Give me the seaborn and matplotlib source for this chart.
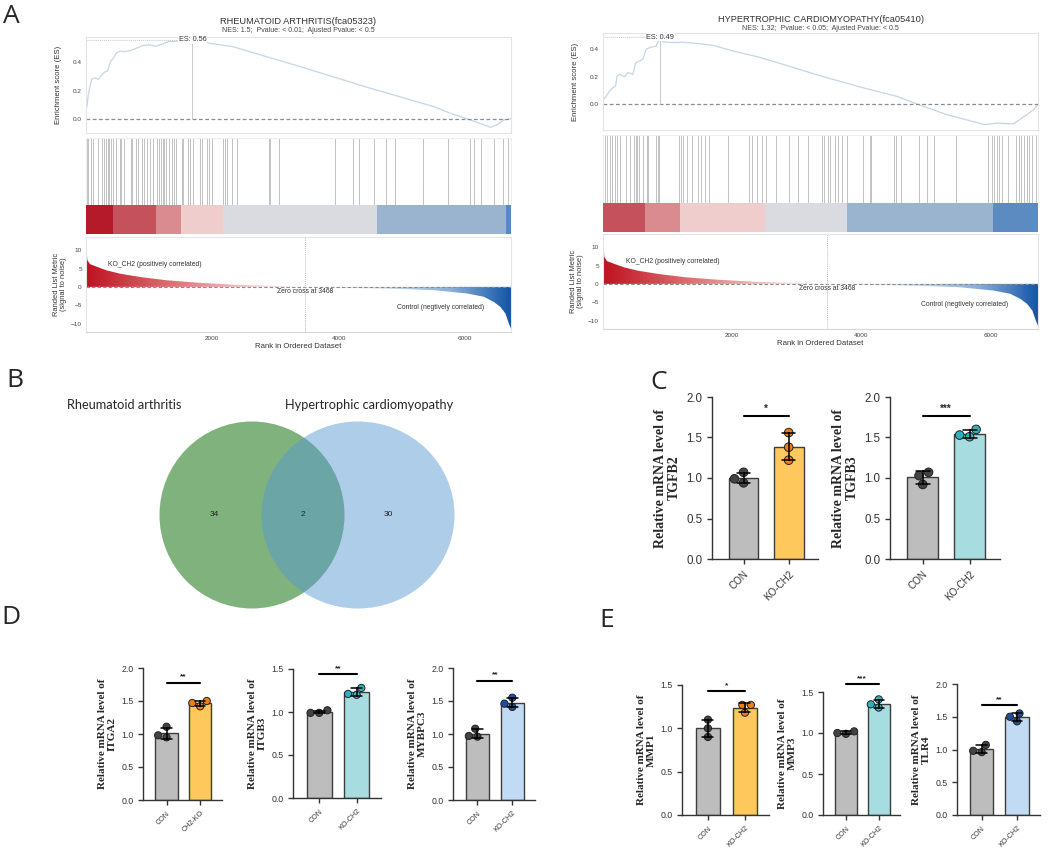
import matplotlib
matplotlib.use("Agg")
import matplotlib.pyplot as plt
import numpy as np
import pandas as pd
import seaborn as sns
from matplotlib.colors import LinearSegmentedColormap
from matplotlib.patches import Ellipse

W, H = 1059, 851

# --------------------------------------------------------------------------- #
# Panel A - GSEA
# --------------------------------------------------------------------------- #
N_GENES = 6730
ZERO_CROSS = 3468
RANK_PTS = [0, 21, 63, 169, 328, 539, 856, 1279, 1807, 2336, 2864, 3468,
            4186, 4978, 5507, 6036, 6300, 6458, 6564, 6643, 6696, 6730]
METRIC_PTS = [12.7, 7.3, 6.2, 5.5, 4.5, 3.6, 2.7, 1.8, 1.1, 0.6, 0.35, 0.0,
              -0.27, -0.55, -0.9, -1.8, -2.7, -4.1, -5.5, -7.3, -10.0, -11.4]

RA_TITLE = "RHEUMATOID ARTHRITIS(fca05323)"
RA_STATS = "NES: 1.5;  Pvalue: < 0.01;  Ajusted Pvalue: < 0.5"
RA_ES_RANK = [0, 15, 36, 87, 138, 199, 240, 291, 342, 393, 443, 484, 545, 596,
              698, 799, 901, 1003, 1105, 1207, 1308, 1512, 1685, 1807, 2336,
              3393, 4450, 5507, 5771, 6036, 6300, 6405, 6511, 6617, 6730]
RA_ES = [0.07, 0.086, 0.17, 0.28, 0.29, 0.28, 0.305, 0.33, 0.34, 0.41, 0.435,
         0.47, 0.48, 0.476, 0.483, 0.50, 0.52, 0.524, 0.514, 0.53, 0.548, 0.552,
         0.56, 0.546, 0.51, 0.37, 0.224, 0.087, 0.04, 0.0, -0.042, -0.06,
         -0.042, -0.007, 0.0]
RA_PEAK = (1685, 0.56)
RA_HITS = [13, 38, 86, 110, 196, 249, 288, 321, 341, 369, 393, 432, 480, 533,
           562, 596, 706, 735, 788, 831, 879, 923, 961, 1014, 1062, 1129, 1153,
           1187, 1216, 1235, 1269, 1307, 1360, 1399, 1428, 1514, 1533, 1620,
           1654, 1687, 1803, 1836, 1909, 1942, 1990, 2173, 2202, 2236, 2317,
           2385, 2890, 2920, 3060, 3950, 4230, 4330, 4560, 4750, 4900, 5330,
           5740, 6080, 6140, 6260, 6460, 6600, 6680]
RA_BANDS = [0, 430, 1115, 1510, 2175, 4610, 6650, 6730]

HCM_TITLE = "HYPERTROPHIC CARDIOMYOPATHY(fca05410)"
HCM_STATS = "NES: 1.32;  Pvalue: < 0.05;  Ajusted Pvalue: < 0.5"
HCM_ES_RANK = [0, 12, 53, 104, 155, 196, 217, 257, 334, 385, 462, 503, 564,
               616, 667, 718, 820, 885, 930, 1100, 1250, 1420, 1700, 2000,
               2400, 3000, 3300, 4031, 4548, 4858, 5323, 5900, 6100, 6350,
               6550, 6667, 6730]
HCM_ES = [0.0, 0.036, 0.06, 0.097, 0.12, 0.133, 0.206, 0.218, 0.20, 0.23,
          0.218, 0.30, 0.315, 0.327, 0.40, 0.412, 0.424, 0.49, 0.455, 0.45,
          0.452, 0.445, 0.43, 0.39, 0.345, 0.26, 0.215, 0.118, 0.056, 0.0,
          -0.078, -0.15, -0.14, -0.145, -0.08, -0.04, 0.0]
HCM_PEAK = (885, 0.49)
HCM_HITS = [32, 63, 104, 145, 186, 217, 268, 349, 422, 472, 503, 523, 564, 625,
            677, 698, 820, 851, 871, 1169, 1209, 1239, 1292, 1384, 1476, 1515,
            1577, 1638, 1936, 2252, 2304, 2386, 2458, 2519, 2673, 2877, 3020,
            3174, 3394, 3425, 3476, 3517, 3588, 3639, 3700, 3782, 4028, 4131,
            4151, 4508, 4540, 4611, 4887, 5010, 5122, 5461, 5952, 6023, 6054,
            6095, 6126, 6177, 6259, 6392, 6433, 6474, 6515, 6556, 6596, 6640,
            6700]
HCM_BANDS = [0, 656, 1194, 2512, 3778, 6031, 6730]

# --------------------------------------------------------------------------- #
# Panel B - Venn
# --------------------------------------------------------------------------- #
VENN_SETS = ["Rheumatoid arthritis", "Hypertrophic cardiomyopathy"]
VENN_COUNTS = [34, 2, 30]  # only RA, shared, only HCM

# --------------------------------------------------------------------------- #
# Panels C-E - qPCR bars (three replicates per group)
# --------------------------------------------------------------------------- #
GENES = ["TGFB2", "TGFB3", "ITGA2", "ITGB3", "MYBPC3", "MMP1", "MMP3", "TLR4"]
KO_LABELS = ["KO-CH2", "KO-CH2", "CH2-KO", "KO-CH2", "KO-CH2", "KO-CH2",
             "KO-CH2", "KO-CH2"]
CON_VALUES = [[1.07, 0.94, 0.99], [1.07, 0.92, 1.03], [1.11, 0.95, 0.98],
              [0.99, 1.02, 0.99], [1.08, 0.96, 0.97], [1.10, 1.00, 0.90],
              [0.99, 1.02, 1.00], [1.07, 0.96, 0.98]]
KO_VALUES = [[1.56, 1.38, 1.22], [1.60, 1.51, 1.53], [1.50, 1.42, 1.47],
             [1.28, 1.20, 1.21], [1.55, 1.41, 1.46], [1.27, 1.27, 1.18],
             [1.41, 1.31, 1.35], [1.55, 1.43, 1.50]]
STARS = ["*", "***", "**", "**", "**", "*", "***", "**"]
SIG_Y = [1.76, 1.76, 1.78, 1.44, 1.81, 1.43, 1.60, 1.68]
Y_MAX = [2.0, 2.0, 2.0, 1.5, 2.0, 1.5, 1.5, 2.0]

# styles
GREY_BAR, GREY_DOT = "#bdbdbd", "#434343"
KO_STYLE = {  # gene -> (bar colour, dot colour)
    "TGFB2": ("#fec85c", "#f07c14"), "ITGA2": ("#fec85c", "#f07c14"),
    "MMP1": ("#fec85c", "#f07c14"),
    "TGFB3": ("#a7dde0", "#2bb4c0"), "ITGB3": ("#a7dde0", "#2bb4c0"),
    "MMP3": ("#a7dde0", "#2bb4c0"),
    "MYBPC3": ("#c0dbf3", "#1f4f9e"), "TLR4": ("#c0dbf3", "#1f4f9e"),
}
# axes boxes in pixels: x0, y_top, x1, y_bottom
BAR_BOXES = [(712, 397, 818, 559), (890, 397, 1000, 559),
             (143, 668, 222, 800), (293, 669, 381, 798), (453, 668, 535, 800),
             (682, 685, 769, 815), (823, 692, 900, 815), (957, 684, 1040, 815)]


def px_axes(fig, x0, y0, x1, y1):
    return fig.add_axes([x0 / W, 1 - y1 / H, (x1 - x0) / W, (y1 - y0) / H])


def px_text(fig, x, y, s, **kw):
    fig.text(x / W, 1 - y / H, s, **kw)


def light_box(ax, color="#e4e4e4"):
    for sp in ax.spines.values():
        sp.set_visible(True)
        sp.set_color(color)
        sp.set_linewidth(0.8)


GSEA_CMAP = LinearSegmentedColormap.from_list(
    "gsea", [(0.0, "#bf1220"), (0.22, "#e07a7c"), (0.42, "#f6d9d9"),
             (0.515, "#f5f5f5"), (0.66, "#d7e3f2"), (0.86, "#8cb0da"),
             (1.0, "#1456a8")])
RA_BAND_COLORS = ["#b51a2b", "#c5515d", "#d98b90", "#f0cdcd", "#dadbe0",
                  "#9ab3cf", "#5489c2"]
HCM_BAND_COLORS = ["#c5515d", "#d98b90", "#f0cdcd", "#dadbe0", "#9ab3cf",
                   "#5c8bc1"]


def gsea_panel(fig, x0, x1, rows, title_y, title, stats, es_rank, es_val, peak,
               hits, bands, band_colors, es_lim):
    (e0, e1), (h0, h1), (b0, b1), (r0, r1) = rows
    cx = (x0 + x1) / 2
    px_text(fig, cx, title_y, title, ha="center", va="center", fontsize=6.7,
            color="#333333")
    px_text(fig, cx, title_y + 8, stats, ha="center", va="center",
            fontsize=5.0, color="#444444")

    # running enrichment score
    ax = px_axes(fig, x0, e0, x1, e1)
    ax.plot(es_rank, es_val, color="#c4d6e6", lw=0.9)
    ax.axhline(0, color="#8a8a8a", ls=(0, (3, 2)), lw=0.9)
    ax.vlines(peak[0], 0, peak[1], color="#c9c9c9", lw=0.7)
    ax.hlines(peak[1], 0, peak[0], color="#c9c9c9", lw=0.7, ls=(0, (1, 1)))
    ax.text(peak[0], peak[1], f"ES: {peak[1]:.2f}", ha="center", va="center",
            fontsize=5.2, color="#333333",
            bbox=dict(fc="white", ec="none", pad=0.4))
    ax.set_xlim(0, N_GENES)
    ax.set_ylim(*es_lim)
    ax.set_xticks([])
    ax.set_yticks([0.0, 0.2, 0.4])
    ax.tick_params(axis="y", length=0, labelsize=4.6, pad=3, labelcolor="#444444")
    ax.set_ylabel("Enrichment score (ES)", fontsize=5.6, labelpad=8,
                  color="#333333")
    ax.set_facecolor("white")
    light_box(ax)

    # hit positions
    ax = px_axes(fig, x0, h0, x1, h1)
    ax.vlines(hits, 0, 1, color="#c2c2c2", lw=0.7)
    ax.set_xlim(0, N_GENES)
    ax.set_ylim(0, 1)
    ax.set_xticks([])
    ax.set_yticks([])
    light_box(ax, "#eeeeee")

    # ranking colour band
    ax = px_axes(fig, x0, b0, x1, b1)
    ax.barh(0, width=np.diff(bands), left=bands[:-1], height=1,
            color=band_colors, linewidth=0)
    ax.set_xlim(0, N_GENES)
    ax.set_ylim(-0.5, 0.5)
    ax.axis("off")

    # ranked list metric
    ax = px_axes(fig, x0, r0, x1, r1)
    ylo, yhi = -12.3, 13.6
    poly = ax.fill_between(RANK_PTS, METRIC_PTS, 0, color="none", lw=0)
    grad = ax.imshow(np.linspace(0, 1, 512)[None, :], cmap=GSEA_CMAP,
                     aspect="auto", extent=(0, N_GENES, ylo, yhi),
                     origin="lower", interpolation="bilinear")
    grad.set_clip_path(poly.get_paths()[0], transform=ax.transData)
    ax.axhline(0, color="#8a8a8a", ls=(0, (3, 2)), lw=0.8)
    ax.axvline(ZERO_CROSS, color="#bdbdbd", ls=(0, (1, 1)), lw=0.7)
    ax.text(355, 6.1, "KO_CH2 (positively correlated)", fontsize=4.9,
            va="center", color="#333333")
    ax.text(ZERO_CROSS, -1.15, f"Zero cross at {ZERO_CROSS}", fontsize=4.9,
            ha="center", va="center", color="#333333")
    ax.text(4920, -5.65, "Control (negtively correlated)", fontsize=4.9,
            va="center", color="#333333")
    ax.set_xlim(0, N_GENES)
    ax.set_ylim(ylo, yhi)
    ax.set_xticks([2000, 4000, 6000])
    ax.set_yticks([-10, -5, 0, 5, 10])
    ax.tick_params(length=0, labelsize=4.6, pad=3, labelcolor="#444444")
    ax.set_xlabel("Rank in Ordered Dataset", fontsize=5.6, labelpad=1,
                  color="#333333")
    ax.set_ylabel("Randed List Metric\n(signal to noise)", fontsize=5.4,
                  labelpad=3, color="#333333", linespacing=1.0)
    light_box(ax)
    ax.spines["bottom"].set_color("#d6d6d6")


def bar_panel(fig, box, gene, ko_label, con, ko, stars, sig_y, ymax, big):
    ax = px_axes(fig, *box)
    df = pd.DataFrame({"group": ["CON"] * len(con) + [ko_label] * len(ko),
                       "value": con + ko})
    bar_c, dot_c = KO_STYLE[gene]
    sns.barplot(data=df, x="group", y="value", hue="group",
                palette=[GREY_BAR, bar_c], saturation=1, errorbar="sd",
                capsize=0.3, width=0.66, edgecolor="#3d3d3d", linewidth=1.0,
                err_kws={"color": "black", "linewidth": 1.1}, legend=False,
                ax=ax)
    sns.swarmplot(data=df, x="group", y="value", hue="group",
                  palette=[GREY_DOT, dot_c], size=6.2 if big else 5.2,
                  edgecolor="#222222", linewidth=0.7, legend=False, zorder=3,
                  ax=ax)
    for ln in ax.lines:
        ln.set_zorder(5)
    ax.plot([0, 1], [sig_y, sig_y], color="black", lw=1.5, clip_on=False)
    ax.text(0.5, sig_y + ymax * 0.015, stars, ha="center", va="bottom",
            fontsize=7 if big else 6, fontweight="bold", clip_on=False)
    ax.set_xlim(-0.7, 1.65)
    ax.set_ylim(0, ymax)
    ax.set_yticks(np.arange(0, ymax + 0.01, 0.5))
    ax.set_xlabel("")
    ax.set_ylabel(f"Relative mRNA level of\n{gene}",
                  fontfamily="Liberation Serif", fontweight="bold",
                  fontsize=10 if big else 8, linespacing=1.1,
                  labelpad=4 if big else 3)
    lab = 8.3 if big else 6.3
    ax.tick_params(axis="y", labelsize=lab, length=3.5, width=1,
                   color="#333333", labelcolor="#333333")
    ax.tick_params(axis="x", labelsize=lab - 1.2, length=3.5, width=1,
                   color="#333333", labelcolor="#333333")
    for t in ax.get_xticklabels():
        t.set_rotation(45)
        t.set_ha("right")
        t.set_rotation_mode("anchor")
    sns.despine(ax=ax)
    for sp in ("left", "bottom"):
        ax.spines[sp].set_linewidth(1.0)
        ax.spines[sp].set_color("#333333")


def main():
    sns.set_theme(style="ticks")
    plt.rcParams["font.family"] = ["Liberation Sans", "DejaVu Sans"]
    fig = plt.figure(figsize=(W / 100, H / 100), dpi=100)

    gsea_panel(fig, 86, 511,
               [(37, 133), (138, 205), (205, 234), (237, 332)], 22,
               RA_TITLE, RA_STATS, RA_ES_RANK, RA_ES, RA_PEAK, RA_HITS,
               RA_BANDS, RA_BAND_COLORS, (-0.1, 0.58))
    gsea_panel(fig, 603, 1038,
               [(33, 130), (135, 203), (203, 232), (234, 329)], 20,
               HCM_TITLE, HCM_STATS, HCM_ES_RANK, HCM_ES, HCM_PEAK, HCM_HITS,
               HCM_BANDS, HCM_BAND_COLORS, (-0.19, 0.52))

    # Venn (drawn in a pixel-coordinate axes)
    ax = px_axes(fig, 0, 360, 520, 640)
    ax.set_xlim(0, 520)
    ax.set_ylim(640, 360)
    ax.axis("off")
    ax.add_patch(Ellipse((252, 515), 185, 187, color="#80b27d", lw=0))
    ax.add_patch(Ellipse((358, 515), 193, 187, color="#5697d1", alpha=0.48,
                         lw=0))
    for x, n in zip([214, 303, 388], VENN_COUNTS):
        ax.text(x, 515, str(n), ha="center", va="center", fontsize=6,
                color="#222222")
    px_text(fig, 124, 405, VENN_SETS[0], ha="center", va="center",
            fontsize=9.2, family="Lato")
    px_text(fig, 369, 405, VENN_SETS[1], ha="center", va="center",
            fontsize=9.2, family="Lato")

    for i, gene in enumerate(GENES):
        bar_panel(fig, BAR_BOXES[i], gene, KO_LABELS[i], CON_VALUES[i],
                  KO_VALUES[i], STARS[i], SIG_Y[i], Y_MAX[i], big=i < 2)

    for letter, x, y in [("A", 3, 4), ("B", 6, 368), ("C", 650, 370),
                         ("D", 1, 605), ("E", 599, 608)]:
        px_text(fig, x, y, letter, ha="left", va="top", fontsize=19,
                family="Open Sans")

    fig.savefig("out.png", dpi=100, facecolor="white")


if __name__ == "__main__":
    main()
